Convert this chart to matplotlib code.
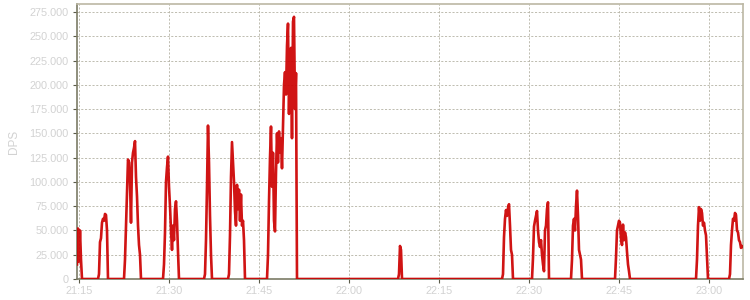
import numpy as np
import pandas as pd
import matplotlib
matplotlib.use("Agg")
import matplotlib.pyplot as plt
import matplotlib.dates as mdates
from matplotlib.ticker import FuncFormatter

# DPS samples every 10 seconds (thousands), one burst per fight
range_start = "2000-01-01 21:14:40"
range_end = "2000-01-01 23:05:40"

burst_starts = ["21:14:40", "21:18:20", "21:22:30", "21:29:00", "21:35:50",
                "21:39:50", "21:46:20", "22:08:10", "22:25:30", "22:30:30",
                "22:37:00", "22:44:20", "22:57:50", "23:03:30"]

burst_values = [
    [15, 52, 18, 50, 20, 0],
    [5, 38, 42, 58, 62, 60, 67, 66, 50, 0],
    [0, 20, 55, 90, 123, 120, 100, 58, 120, 130, 135, 142, 105, 85, 55, 35, 25, 0],
    [0, 15, 48, 100, 115, 126, 95, 75, 50, 30, 55, 40, 72, 80, 60, 28, 0],
    [0, 5, 40, 95, 158, 120, 65, 25, 0],
    [0, 5, 45, 105, 141, 120, 100, 70, 55, 97, 72, 92, 60, 87, 55, 60, 40, 0],
    [0, 25, 80, 125, 157, 95, 130, 60, 49, 110, 150, 120, 152, 130, 145, 114,
     155, 200, 213, 190, 240, 263, 170, 225, 238, 145, 265, 270, 175, 212, 0],
    [0, 5, 34, 30, 0],
    [0, 5, 43, 62, 71, 65, 73, 77, 55, 30, 25, 0],
    [0, 22, 54, 60, 65, 70, 50, 38, 33, 40, 25, 15, 8, 50, 55, 72, 79, 0],
    [0, 20, 55, 62, 50, 75, 91, 65, 30, 25, 20, 0],
    [0, 22, 50, 55, 60, 58, 42, 35, 56, 40, 48, 43, 28, 15, 8, 0],
    [0, 20, 55, 74, 60, 72, 68, 55, 58, 50, 45, 22, 0],
    [5, 35, 50, 62, 60, 68, 66, 50, 48, 40, 38, 32, 34, 33],
]

y_ticks = [0, 25000, 50000, 75000, 100000, 125000, 150000, 175000,
           200000, 225000, 250000, 275000]

# build the full series, idle time is zero
idx = pd.date_range(range_start, range_end, freq="10s")
dps = pd.Series(0.0, index=idx)
for start, vals in zip(burst_starts, burst_values):
    t0 = pd.Timestamp("2000-01-01 " + start)
    t = pd.date_range(t0, periods=len(vals), freq="10s")
    dps.loc[t] = np.array(vals, dtype=float) * 1000

plt.rcParams["font.family"] = ["Liberation Sans", "DejaVu Sans"]

fig = plt.figure(figsize=(7.5, 3), dpi=100)
ax = fig.add_axes([77 / 750., 21 / 300., 666 / 750., 275 / 300.])

ax.plot(dps.index, dps.values, color="#cc0000", lw=1.9, alpha=0.92,
        solid_joinstyle="round", zorder=3)

ax.set_xlim(pd.Timestamp(range_start), pd.Timestamp(range_end))
ax.set_ylim(0, 283200)

ax.xaxis.set_major_locator(mdates.MinuteLocator(byminute=[0, 15, 30, 45]))
ax.xaxis.set_major_formatter(mdates.DateFormatter("%H:%M"))
ax.set_yticks(y_ticks)
ax.yaxis.set_major_formatter(
    FuncFormatter(lambda v, p: "{:,.0f}".format(v).replace(",", ".")))

ax.grid(True, color="#b4b2a4", lw=0.6, ls=(0, (2.5, 2)), zorder=1)
ax.tick_params(axis="both", colors="#5a5a48", labelcolor="#d2d2d2",
               labelsize=7.8, length=3, width=0.8)
ax.tick_params(axis="x", pad=2)
ax.tick_params(axis="y", pad=3)

for side in ("left", "bottom"):
    ax.spines[side].set_color("#7c7c66")
    ax.spines[side].set_linewidth(1.2)
for side in ("top", "right"):
    ax.spines[side].set_color("#bcb8a4")
    ax.spines[side].set_linewidth(1.2)

ax.set_ylabel("DPS", color="#d2d2d2", fontsize=8.5, labelpad=7)

fig.savefig("out.png", dpi=100)
